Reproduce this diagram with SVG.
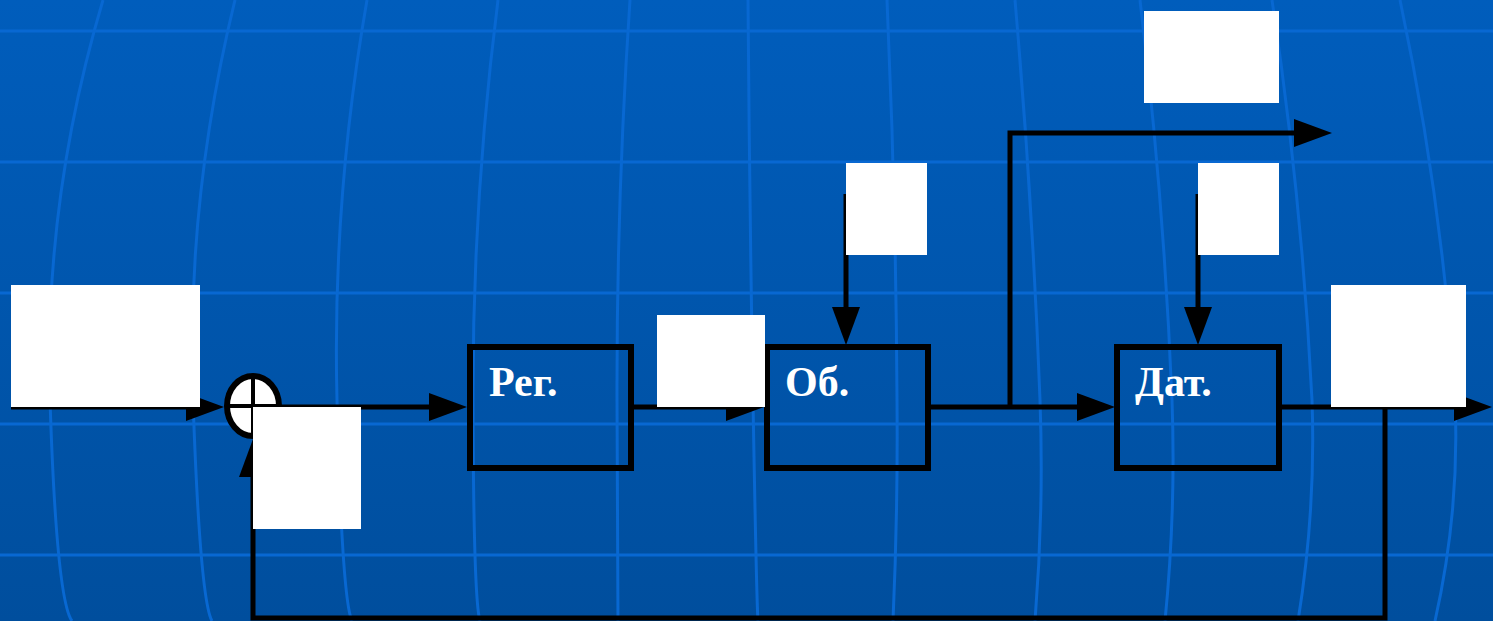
<svg xmlns="http://www.w3.org/2000/svg" width="1493" height="621" viewBox="0 0 1493 621">
<defs>
<linearGradient id="bg" x1="0" y1="0" x2="0" y2="1">
<stop offset="0" stop-color="#005DBC"/>
<stop offset="1" stop-color="#004E9D"/>
</linearGradient>
<marker id="ah" markerWidth="38" markerHeight="28" refX="0" refY="14" orient="auto" markerUnits="userSpaceOnUse" overflow="visible">
<path d="M0,0 L38,14 L0,28 Z" fill="#000"/>
</marker>
<style>
.grid{fill:none;stroke:#0868D2;stroke-width:3}
.wire{fill:none;stroke:#000;stroke-width:5;stroke-linejoin:miter;marker-end:url(#ah)}
.blk{fill:none;stroke:#000;stroke-width:6}
.lbl{font-family:"Liberation Serif","Times New Roman",serif;font-weight:bold;font-size:42px;fill:#fff}
.pad{fill:#fff}
</style>
</defs>
<g id="background">
<rect x="0" y="0" width="1493" height="621" fill="url(#bg)"/>
<path class="grid" d="M0,31 H1493 M0,162 H1493 M0,293 H1493 M0,424 H1493 M0,555 H1493"/>
<path class="grid" d="M103,0 Q43.5,200 50,400 T72,621"/>
<path class="grid" d="M235,0 Q186,200 193,400 T212,621"/>
<path class="grid" d="M367,0 Q332,200 337,400 T352,621"/>
<path class="grid" d="M498,0 Q472.5,200 473,400 T480,621"/>
<path class="grid" d="M630,0 Q616.5,200 617,400 T618,621"/>
<path class="grid" d="M748,0 Q749.5,200 753,400 T758,621"/>
<path class="grid" d="M887,0 Q896,200 897,400 Q898,510 893,621"/>
<path class="grid" d="M1015,0 Q1032.5,200 1040,400 Q1044,510 1035,621"/>
<path class="grid" d="M1140,0 Q1164,200 1172,400 Q1176,510 1165,621"/>
<path class="grid" d="M1272,0 Q1302,200 1312,400 Q1316,510 1298,621"/>
<path class="grid" d="M1400,0 Q1442.5,200 1455,400 Q1460,510 1435,621"/>
</g>
<g id="connectors">
<path class="wire" d="M11,407 H186"/>
<path class="wire" d="M281,407 H429"/>
<path class="wire" d="M634,407 H726"/>
<path class="wire" d="M931,407 H1077"/>
<path class="wire" d="M1010,407 V133 H1294"/>
<path class="wire" d="M1282,407 H1454"/>
<path class="wire" d="M1385,407 V618 H253 V477"/>
<path class="wire" d="M846,194 V307"/>
<path class="wire" d="M1198,194 V307"/>
</g>
<g id="sum">
<ellipse cx="253" cy="406" rx="26" ry="30" fill="#fff" stroke="#000" stroke-width="6"/>
<path d="M253,376 V436 M227,406 H279" stroke="#000" stroke-width="4"/>
</g>
<g id="reg">
<rect class="blk" x="470" y="347" width="161" height="121"/>
<text class="lbl" x="489" y="396">Рег.</text>
</g>
<g id="ob">
<rect class="blk" x="767" y="347" width="161" height="121"/>
<text class="lbl" x="785" y="396">Об.</text>
</g>
<g id="dat">
<rect class="blk" x="1117" y="347" width="162" height="121"/>
<text class="lbl" x="1135" y="396">Дат.</text>
</g>
<g id="pad-input"><rect class="pad" x="11" y="285" width="189" height="122"/></g>
<g id="pad-feedback"><rect class="pad" x="253" y="407" width="108" height="122"/></g>
<g id="pad-control"><rect class="pad" x="657" y="315" width="108" height="92"/></g>
<g id="pad-dist1"><rect class="pad" x="846" y="163" width="81" height="92"/></g>
<g id="pad-branch"><rect class="pad" x="1144" y="11" width="135" height="92"/></g>
<g id="pad-dist2"><rect class="pad" x="1198" y="163" width="81" height="92"/></g>
<g id="pad-output"><rect class="pad" x="1331" y="285" width="135" height="122"/></g>
</svg>
